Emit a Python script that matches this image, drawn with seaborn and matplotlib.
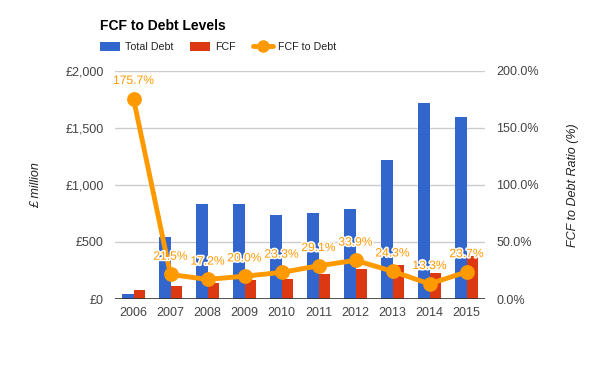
import matplotlib
matplotlib.use("Agg")
import matplotlib.pyplot as plt
import matplotlib.patheffects as pe
import seaborn as sns
import pandas as pd
from matplotlib.patches import Patch
from matplotlib.lines import Line2D
from matplotlib.ticker import FuncFormatter, MultipleLocator

years = ["2006", "2007", "2008", "2009", "2010", "2011", "2012", "2013", "2014", "2015"]
total_debt = [44, 546, 833, 833, 737, 754, 789, 1219, 1719, 1596]
fcf = [78, 117, 143, 165, 172, 219, 267, 296, 229, 378]
fcf_to_debt = [175.7, 21.5, 17.2, 20.0, 23.3, 29.1, 33.9, 24.3, 13.3, 23.7]

BLUE = "#3366CC"
RED = "#DC3912"
ORANGE = "#FF9900"
GREY = "#444444"

sns.set_theme(style="white")
plt.rcParams["font.family"] = ["Liberation Sans", "DejaVu Sans"]

bars = pd.DataFrame({
    "Year": years * 2,
    "Value": total_debt + fcf,
    "Series": ["Total Debt"] * len(years) + ["FCF"] * len(years),
})
line = pd.DataFrame({"Year": years, "Ratio": fcf_to_debt})

fig = plt.figure(figsize=(6, 3.71), dpi=100)
ax = fig.add_axes([115 / 600, 1 - 299 / 371, 370 / 600, 228 / 371])

sns.barplot(data=bars, x="Year", y="Value", hue="Series",
            palette={"Total Debt": BLUE, "FCF": RED}, width=0.6,
            saturation=1, ax=ax, legend=False, zorder=2, linewidth=0)
ax.set_ylim(0, 2000)
ax.set_xlim(-0.5, len(years) - 0.5)
ax.yaxis.set_major_locator(MultipleLocator(500))
ax.yaxis.set_major_formatter(FuncFormatter(lambda v, p: f"£{v:,.0f}"))
ax.grid(axis="y", color="#cccccc", linewidth=1, zorder=0)
ax.set_axisbelow(True)
for s in ax.spines.values():
    s.set_visible(False)
ax.axhline(0, color="#333333", linewidth=1.2, zorder=3)
ax.tick_params(axis="both", length=0, labelsize=9, colors=GREY, pad=6)
ax.tick_params(axis="y", pad=8)
ax.set_xlabel("")
ax.set_ylabel("£ million", fontsize=9, style="italic", color="#222222", labelpad=17)

ax2 = ax.twinx()
sns.pointplot(data=line, x="Year", y="Ratio", color=ORANGE, ax=ax2,
              markersize=8, linewidth=3.5, errorbar=None)
ax2.set_ylim(0, 200)
ax2.yaxis.set_major_locator(MultipleLocator(50))
ax2.yaxis.set_major_formatter(FuncFormatter(lambda v, p: f"{v:.1f}%"))
for s in ax2.spines.values():
    s.set_visible(False)
ax2.tick_params(axis="y", length=0, labelsize=9, colors=GREY, pad=8)
ax2.set_xlabel("")
ax2.set_ylabel("FCF to Debt Ratio (%)", fontsize=9, style="italic", color="#222222", labelpad=20)
ax2.set_xlim(-0.5, len(years) - 0.5)

for i, r in enumerate(fcf_to_debt):
    ax2.annotate(f"{r:.1f}%", (i, r), xytext=(0, 8.5), textcoords="offset points",
                 ha="center", va="bottom", color=ORANGE, fontsize=8.7,
                 path_effects=[pe.withStroke(linewidth=2.2, foreground="white")])

fig.text(100 / 600, 1 - 26 / 371, "FCF to Debt Levels", fontsize=10,
         fontweight="bold", color="#000000", va="center", ha="left")

handles = [
    Patch(facecolor=BLUE, edgecolor="none"),
    Patch(facecolor=RED, edgecolor="none"),
    Line2D([0], [0], color=ORANGE, linewidth=3.5, marker="o", markersize=8),
]
fig.legend(handles, ["Total Debt", "FCF", "FCF to Debt"], loc="center left",
           bbox_to_anchor=(90 / 600, 1 - 47 / 371), ncol=3, frameon=False,
           fontsize=7.7, handlelength=1.87, handleheight=1.0, columnspacing=1.6,
           handletextpad=0.47, labelcolor="#222222")

fig.savefig("out.png", dpi=100)
